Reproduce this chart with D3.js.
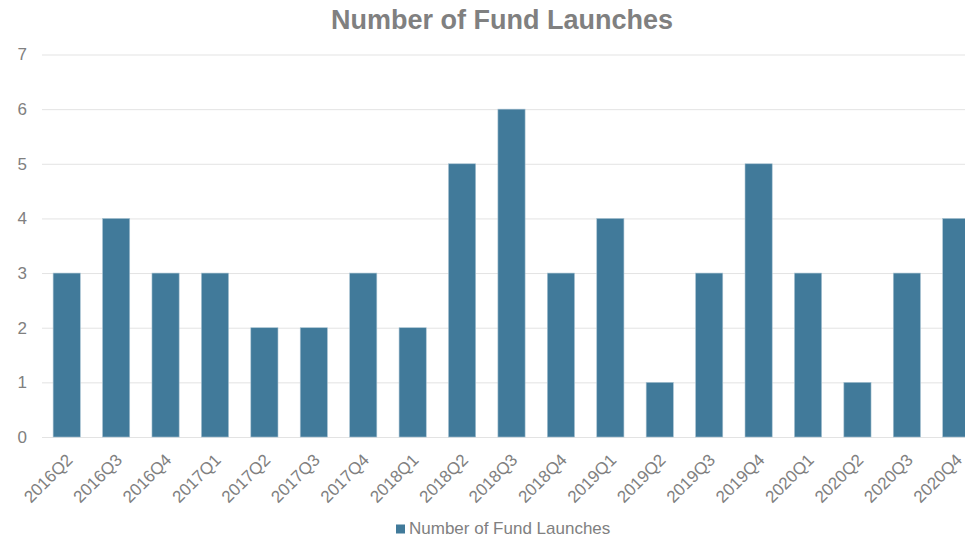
<!DOCTYPE html>
<html>
<head>
<meta charset="utf-8">
<script src="https://cdn.jsdelivr.net/npm/d3@7"></script>
<style>
  html, body { margin: 0; padding: 0; background: #fff; }
  svg { display: block; font-family: "Liberation Sans", Arial, sans-serif; }
</style>
</head>
<body>
<svg id="chart" width="965" height="540"></svg>
<script>
// Quarterly fund launch counts
const quarters = ["2016Q2","2016Q3","2016Q4","2017Q1","2017Q2","2017Q3","2017Q4","2018Q1","2018Q2","2018Q3","2018Q4","2019Q1","2019Q2","2019Q3","2019Q4","2020Q1","2020Q2","2020Q3","2020Q4"];
const launches = [3,4,3,3,2,2,3,2,5,6,3,4,1,3,5,3,1,3,4];
const yTicks = [0,1,2,3,4,5,6,7];
const seriesName = "Number of Fund Launches";
const chartTitle = "Number of Fund Launches";

const svg = d3.select("#chart");
const W = 965, H = 540;
const plot = { left: 42, right: 981, top: 54.5, bottom: 437 };

const x = d3.scaleBand().domain(quarters).range([plot.left, plot.right]).paddingInner(0.45).paddingOuter(0.225);
const y = d3.scaleLinear().domain([0, 7]).range([plot.bottom, plot.top]);

const grey = "#808080";
const barColor = "#417a9a";

// title
svg.append("text")
  .attr("x", 502).attr("y", 29)
  .attr("text-anchor", "middle")
  .attr("font-size", 27).attr("font-weight", "bold")
  .attr("fill", grey)
  .text(chartTitle);

// gridlines + y labels
const yAxis = d3.axisLeft(y).tickValues(yTicks).tickSize(-(W - plot.left)).tickPadding(15).tickFormat(d3.format("d"));
const gy = svg.append("g").attr("transform", `translate(${plot.left},0)`).call(yAxis);
gy.select(".domain").remove();
gy.selectAll(".tick line").attr("stroke", "#e3e3e3").attr("stroke-width", 1);
gy.selectAll(".tick text").attr("fill", grey).attr("font-size", 17).attr("font-family", "Liberation Sans, Arial, sans-serif");

// bars
svg.append("g").selectAll("rect")
  .data(quarters)
  .join("rect")
  .attr("x", d => x(d))
  .attr("width", x.bandwidth())
  .attr("y", (d, i) => y(launches[i]))
  .attr("height", (d, i) => y(0) - y(launches[i]))
  .attr("fill", barColor)
  .attr("stroke", "#a9c3d2")
  .attr("stroke-width", 0.6);

// x axis labels rotated
const xAxis = d3.axisBottom(x).tickSize(0).tickPadding(0);
const gx = svg.append("g").attr("transform", `translate(0,${plot.bottom})`).call(xAxis);
gx.select(".domain").remove();
gx.selectAll(".tick text")
  .attr("fill", grey)
  .attr("font-size", 17)
  .attr("font-family", "Liberation Sans, Arial, sans-serif")
  .attr("text-anchor", "end")
  .attr("dy", null)
  .attr("y", 0)
  .attr("transform", "translate(7,24) rotate(-45)");

// legend
const lg = svg.append("g");
lg.append("rect").attr("x", 396).attr("y", 524.5).attr("width", 9).attr("height", 9).attr("fill", barColor);
lg.append("text").attr("x", 409).attr("y", 534)
  .attr("font-size", 17).attr("fill", grey)
  .text(seriesName);
</script>
</body>
</html>
